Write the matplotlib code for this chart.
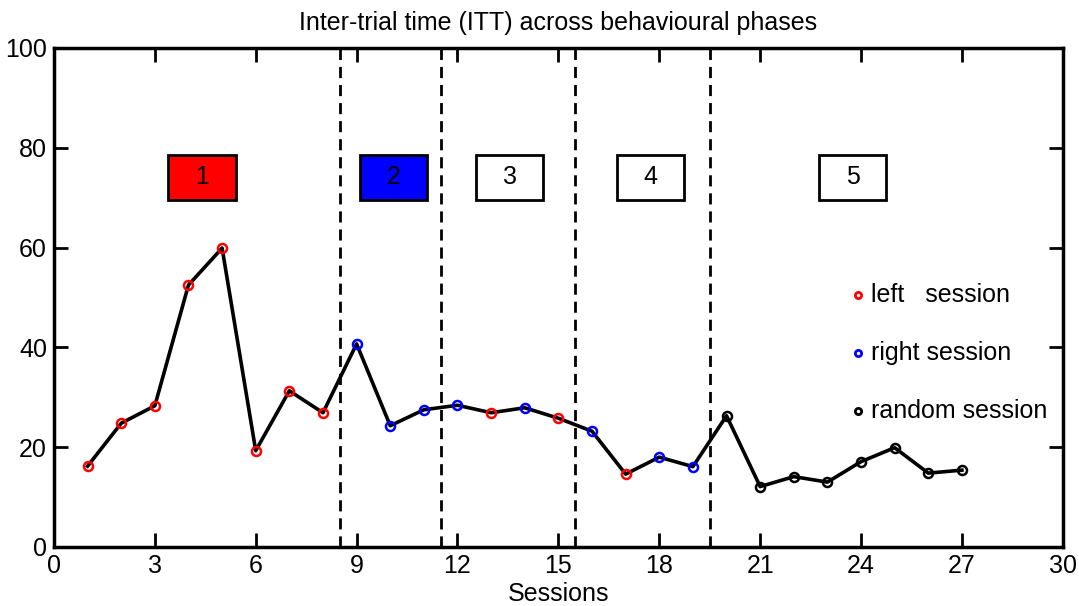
import numpy as np
import matplotlib
matplotlib.use("Agg")
import matplotlib.pyplot as plt
from matplotlib.patches import Rectangle

plt.rcParams['font.family'] = ['Liberation Sans', 'DejaVu Sans']

# Inter-trial time per session
sessions = np.arange(1, 28)
itt = [16.2, 24.8, 28.3, 52.5, 59.9, 19.3, 31.3, 26.9, 40.7, 24.3,
       27.5, 28.4, 26.9, 27.9, 25.8, 23.2, 14.6, 18.0, 16.1, 26.3,
       12.1, 14.1, 13.0, 17.1, 19.9, 14.8, 15.4]
# session type: L = left, R = right, X = random
kind = list("LLLLLLLLRRRRLRLRLRRXXXXXXXX")

phase_bounds = [8.5, 11.5, 15.5, 19.5]
phase_labels = ['1', '2', '3', '4', '5']
phase_x = [4.4, 10.1, 13.55, 17.75, 23.75]
phase_colors = ['#ff0000', '#0000ff', 'white', 'white', 'white']

kind_colors = {'L': '#ff0000', 'R': '#0000ff', 'X': 'black'}
kind_names = {'L': 'left   session', 'R': 'right session', 'X': 'random session'}
legend_y = {'L': 50.5, 'R': 38.9, 'X': 27.3}

fig = plt.figure(figsize=(10.79, 6.06), dpi=100)
ax = fig.add_axes([0.050, 0.0974, 0.935, 0.8234])

ax.plot(sessions, itt, color='black', lw=2.6, zorder=2)
for k in ['L', 'R', 'X']:
    idx = [i for i, c in enumerate(kind) if c == k]
    ax.plot(sessions[idx], np.array(itt)[idx], 'o', mfc='none',
            mec=kind_colors[k], mew=1.8, ms=6.5, zorder=3)

for b in phase_bounds:
    ax.axvline(b, color='black', lw=2, ls=(0, (4, 2.5)), zorder=1)

for x, lab, fc in zip(phase_x, phase_labels, phase_colors):
    ax.add_patch(Rectangle((x - 1.0, 69.6), 2.0, 9.0, facecolor=fc,
                           edgecolor='black', lw=2, zorder=4))
    ax.text(x, 74.1, lab, ha='center', va='center', fontsize=18, zorder=5)

# legend drawn as markers + text inside the axes
for k in ['L', 'R', 'X']:
    ax.plot([23.9], [legend_y[k]], 'o', ms=4.5, mfc='none',
            mec=kind_colors[k], mew=2)
    ax.text(24.3, legend_y[k], kind_names[k], ha='left', va='center',
            fontsize=18)

ax.set_xlim(0, 30)
ax.set_ylim(0, 100)
ax.set_xticks(np.arange(0, 31, 3))
ax.set_yticks(np.arange(0, 101, 20))
ax.tick_params(direction='in', length=10, width=2, labelsize=18,
               top=True, right=True, pad=5)
for s in ax.spines.values():
    s.set_linewidth(2.5)

ax.set_xlabel('Sessions', fontsize=18, labelpad=3)
ax.set_title('Inter-trial time (ITT) across behavioural phases',
             fontsize=18, pad=13)

fig.savefig('out.png', dpi=100)
